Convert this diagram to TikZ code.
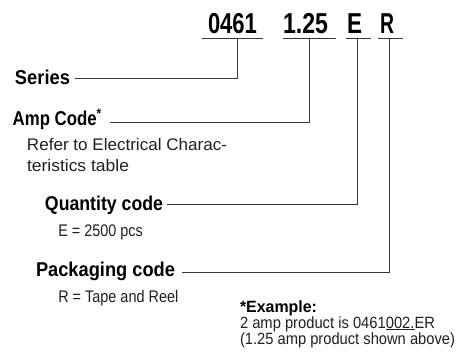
\documentclass[tikz,border=0pt]{standalone}
\usepackage{fontspec}
\setmainfont{Liberation Sans}
\usepackage{graphicx}
\newsavebox{\fitbox}
\newcommand{\fitto}[2]{\sbox{\fitbox}{#2}\pgfmathsetmacro{\fitsc}{#1/(\wd\fitbox)}\scalebox{\fitsc}[1]{\usebox{\fitbox}}}
\tikzset{
  codetxt/.style={anchor=base west, inner sep=0pt, outer sep=0pt, font=\bfseries\fontsize{28.8}{30}\selectfont, text=black},
  lbl/.style={anchor=base west, inner sep=0pt, outer sep=0pt, font=\bfseries\fontsize{20}{22}\selectfont, text=black},
  desc/.style={anchor=base west, inner sep=0pt, outer sep=0pt, font=\fontsize{16.8}{20}\selectfont, text=black!88},
  exbold/.style={anchor=base west, inner sep=0pt, outer sep=0pt, font=\bfseries\fontsize{16.3}{18}\selectfont, text=black},
  exdesc/.style={anchor=base west, inner sep=0pt, outer sep=0pt, font=\fontsize{16.3}{18}\selectfont, text=black!88},
  conn/.style={draw=black!78, line width=0.9pt},
  uline/.style={draw=black!78, line width=0.9pt},
}
\begin{document}
\begin{tikzpicture}[x=1pt,y=-1pt]
\path[use as bounding box] (0,0) rectangle (461,360);
% part number codes
\node[codetxt] (c1) at (208,33.3) {\fitto{49}{0461}};
\node[codetxt] (c2) at (283,33.3) {\fitto{45}{1.25}};
\node[codetxt] (c3) at (347,33.3) {\fitto{15}{E}};
\node[codetxt] (c4) at (380,33.3) {\fitto{14}{R}};
% underlines
\coordinate (u1a) at (202,38.3); \coordinate (u1b) at (263,38.3);
\coordinate (u2a) at (283,38.3); \coordinate (u2b) at (336,38.3);
\coordinate (u3a) at (346,38.3); \coordinate (u3b) at (371,38.3);
\coordinate (u4a) at (378,38.3); \coordinate (u4b) at (403,38.3);
\draw[uline] (u1a) -- (u1b);
\draw[uline] (u2a) -- (u2b);
\draw[uline] (u3a) -- (u3b);
\draw[uline] (u4a) -- (u4b);
% labels
\node[lbl] (series) at (15,84) {\fitto{55}{Series}};
\node[lbl] (amp) at (12.7,125.7) {\fitto{89}{Amp Code\textsuperscript{*}}};
\node[desc] (refer1) at (27,150.7) {\fitto{200}{Refer to Electrical Charac-}};
\node[desc] (refer2) at (27,171.7) {\fitto{102}{teristics table}};
\node[lbl] (qty) at (45,210.7) {\fitto{118}{Quantity code}};
\node[desc] (qtyd) at (58.3,236.7) {\fitto{84.5}{E = 2500 pcs}};
\node[lbl] (pkg) at (36,276.7) {\fitto{139}{Packaging code}};
\node[desc] (pkgd) at (58.3,302.7) {\fitto{120}{R = Tape and Reel}};
\node[exbold] (ex1) at (240,312) {\fitto{77}{*Example:}};
\node[exdesc] (ex2) at (240,328) {\fitto{195}{2 amp product is 0461\underline{002.}ER}};
\node[exdesc] (ex3) at (240,344) {\fitto{215}{(1.25 amp product shown above)}};
% connectors
\coordinate (t1) at (237,38.3);   \coordinate (e1) at (75,78.3);
\coordinate (t2) at (309,38.3);   \coordinate (e2) at (110,122.5);
\coordinate (t3) at (357,38.3);   \coordinate (e3) at (166.7,204.3);
\coordinate (t4) at (389,38.3);   \coordinate (e4) at (181.7,272.5);
\draw[conn] (t1) |- (e1);
\draw[conn] (t2) |- (e2);
\draw[conn] (t3) |- (e3);
\draw[conn] (t4) |- (e4);
\end{tikzpicture}
\end{document}
